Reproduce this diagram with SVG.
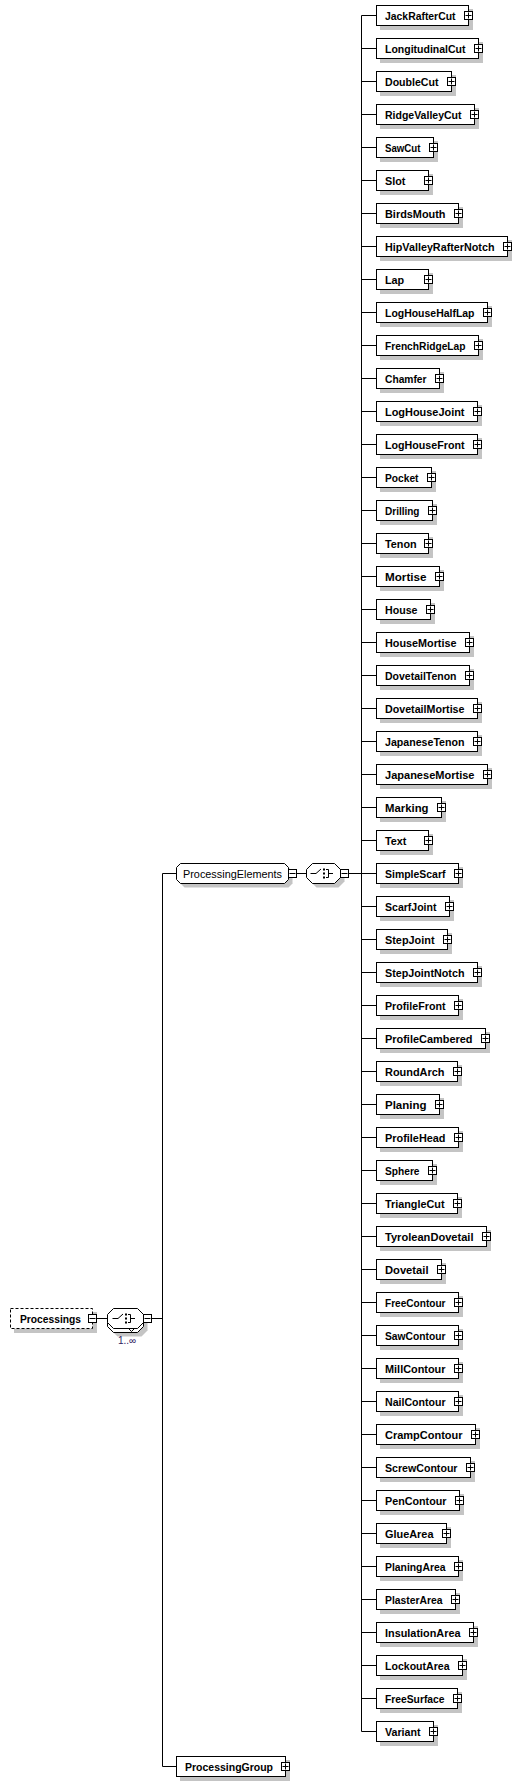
<svg xmlns="http://www.w3.org/2000/svg" xmlns:xlink="http://www.w3.org/1999/xlink" width="522" height="1784" viewBox="0 0 522 1784">
<style>
.sh{fill:#c4c4c4;stroke:none}
.box{fill:#fff;stroke:#000;stroke-width:1}
.dash{fill:#fff;stroke:#000;stroke-width:1;stroke-dasharray:3,2}
.el{font-family:"Liberation Sans",Arial,sans-serif;font-weight:bold;font-size:10.8px;fill:#000}
.grp{font-family:"Liberation Sans",Arial,sans-serif;font-size:10.8px;fill:#000}
.occ{font-family:"Liberation Sans",Arial,sans-serif;font-size:10px;fill:#302060}
.ln{fill:none;stroke:#000;stroke-width:1}
</style>
<defs>
<g id="plus"><rect x="-4" y="-4" width="8" height="8" fill="#fff" stroke="#000"/><path d="M-3 0H3M0 -3V3" stroke="#000" fill="none"/></g>
<g id="minus"><rect x="-4" y="-4" width="8" height="8" fill="#fff" stroke="#000"/><path d="M-3 0H3" stroke="#000" fill="none"/></g>
<g id="seq"><path d="M-13 0H-7.5L-2.5 -4.5" stroke="#000" fill="none"/><rect x="-0.5" y="-5" width="2" height="2" fill="#000"/><rect x="-0.5" y="-1" width="2" height="2" fill="#000"/><rect x="-0.5" y="3" width="2" height="2" fill="#000"/><path d="M2.5 -4H5V4H2.5M5 0H9.5" stroke="#000" fill="none"/></g>
</defs>

<g id="connectors" class="ln">
<path d="M96.5 1318.5H107.5M151.5 1318.5H162.5M162.5 873.5V1766.5M162.5 873.5H176.5M162.5 1766.5H176.5M296.5 873.5H306.5M348.5 873.5H361.5M361.5 15.5V1731.5"/>
<path d="M361.5 15.5H376.5M361.5 48.5H376.5M361.5 81.5H376.5M361.5 114.5H376.5M361.5 147.5H376.5M361.5 180.5H376.5M361.5 213.5H376.5M361.5 246.5H376.5M361.5 279.5H376.5M361.5 312.5H376.5M361.5 345.5H376.5M361.5 378.5H376.5M361.5 411.5H376.5M361.5 444.5H376.5M361.5 477.5H376.5M361.5 510.5H376.5M361.5 543.5H376.5M361.5 576.5H376.5M361.5 609.5H376.5M361.5 642.5H376.5M361.5 675.5H376.5M361.5 708.5H376.5M361.5 741.5H376.5M361.5 774.5H376.5M361.5 807.5H376.5M361.5 840.5H376.5M361.5 873.5H376.5M361.5 906.5H376.5M361.5 939.5H376.5M361.5 972.5H376.5M361.5 1005.5H376.5M361.5 1038.5H376.5M361.5 1071.5H376.5M361.5 1104.5H376.5M361.5 1137.5H376.5M361.5 1170.5H376.5M361.5 1203.5H376.5M361.5 1236.5H376.5M361.5 1269.5H376.5M361.5 1302.5H376.5M361.5 1335.5H376.5M361.5 1368.5H376.5M361.5 1401.5H376.5M361.5 1434.5H376.5M361.5 1467.5H376.5M361.5 1500.5H376.5M361.5 1533.5H376.5M361.5 1566.5H376.5M361.5 1599.5H376.5M361.5 1632.5H376.5M361.5 1665.5H376.5M361.5 1698.5H376.5M361.5 1731.5H376.5"/>
</g>

<g id="Processings">
<rect class="sh" x="14" y="1312" width="83" height="21"/>
<rect class="dash" x="10.5" y="1308.5" width="82" height="20"/>
<text class="el" x="20" y="1322.5" textLength="61" lengthAdjust="spacingAndGlyphs">Processings</text>
<use xlink:href="#minus" x="92.5" y="1318.5"/>
</g>

<g id="sequence-Processings">
<polygon class="sh" points="117.5,1316.5 141.5,1316.5 147.5,1322.5 147.5,1330.5 141.5,1336.5 117.5,1336.5 111.5,1330.5 111.5,1322.5"/>
<polygon class="box" points="113.5,1312.5 137.5,1312.5 143.5,1318.5 143.5,1326.5 137.5,1332.5 113.5,1332.5 107.5,1326.5 107.5,1318.5"/>
<polygon class="box" points="113.5,1308.5 137.5,1308.5 143.5,1314.5 143.5,1322.5 137.5,1328.5 113.5,1328.5 107.5,1322.5 107.5,1314.5"/>
<path class="ln" d="M128.5 1328.5L131.5 1331.5L134.5 1328.5"/>
<use xlink:href="#seq" x="125.5" y="1318.5"/>
<use xlink:href="#minus" x="147.5" y="1318.5"/>
<text class="occ" x="127" y="1344" text-anchor="middle">1..∞</text>
</g>

<g id="ProcessingElements">
<polygon class="sh" points="184.5,867.5 288.5,867.5 292.5,871.5 292.5,883.5 288.5,887.5 184.5,887.5 180.5,883.5 180.5,871.5"/>
<polygon class="box" points="180.5,863.5 284.5,863.5 288.5,867.5 288.5,879.5 284.5,883.5 180.5,883.5 176.5,879.5 176.5,867.5"/>
<text class="grp" x="183" y="877.5" textLength="99" lengthAdjust="spacingAndGlyphs">ProcessingElements</text>
<use xlink:href="#minus" x="292.5" y="873.5"/>
</g>

<g id="sequence-ProcessingElements">
<polygon class="sh" points="316.5,867.5 338.5,867.5 344.5,873.5 344.5,881.5 338.5,887.5 316.5,887.5 310.5,881.5 310.5,873.5"/>
<polygon class="box" points="312.5,863.5 334.5,863.5 340.5,869.5 340.5,877.5 334.5,883.5 312.5,883.5 306.5,877.5 306.5,869.5"/>
<use xlink:href="#seq" x="323.5" y="873.5"/>
<use xlink:href="#minus" x="344.5" y="873.5"/>
</g>

<g id="ProcessingGroup">
<rect class="sh" x="180" y="1760" width="110" height="21"/>
<rect class="box" x="176.5" y="1756.5" width="109" height="20"/>
<text class="el" x="185" y="1770.5" textLength="88" lengthAdjust="spacingAndGlyphs">ProcessingGroup</text>
<use xlink:href="#plus" x="285.5" y="1766.5"/>
</g>

<g id="JackRafterCut" transform="translate(0,0)"><rect class="sh" x="380" y="9" width="93" height="21"/><rect class="box" x="376.5" y="5.5" width="92" height="20"/><text class="el" x="385" y="19.5" textLength="70.5" lengthAdjust="spacingAndGlyphs">JackRafterCut</text><use xlink:href="#plus" x="468.5" y="15.5"/></g>
<g id="LongitudinalCut" transform="translate(0,33)"><rect class="sh" x="380" y="9" width="103" height="21"/><rect class="box" x="376.5" y="5.5" width="102" height="20"/><text class="el" x="385" y="19.5" textLength="80.5" lengthAdjust="spacingAndGlyphs">LongitudinalCut</text><use xlink:href="#plus" x="478.5" y="15.5"/></g>
<g id="DoubleCut" transform="translate(0,66)"><rect class="sh" x="380" y="9" width="76" height="21"/><rect class="box" x="376.5" y="5.5" width="75" height="20"/><text class="el" x="385" y="19.5" textLength="53.5" lengthAdjust="spacingAndGlyphs">DoubleCut</text><use xlink:href="#plus" x="451.5" y="15.5"/></g>
<g id="RidgeValleyCut" transform="translate(0,99)"><rect class="sh" x="380" y="9" width="99" height="21"/><rect class="box" x="376.5" y="5.5" width="98" height="20"/><text class="el" x="385" y="19.5" textLength="76.5" lengthAdjust="spacingAndGlyphs">RidgeValleyCut</text><use xlink:href="#plus" x="474.5" y="15.5"/></g>
<g id="SawCut" transform="translate(0,132)"><rect class="sh" x="380" y="9" width="58" height="21"/><rect class="box" x="376.5" y="5.5" width="57" height="20"/><text class="el" x="385" y="19.5" textLength="35.5" lengthAdjust="spacingAndGlyphs">SawCut</text><use xlink:href="#plus" x="433.5" y="15.5"/></g>
<g id="Slot" transform="translate(0,165)"><rect class="sh" x="380" y="9" width="53" height="21"/><rect class="box" x="376.5" y="5.5" width="52" height="20"/><text class="el" x="385" y="19.5">Slot</text><use xlink:href="#plus" x="428.5" y="15.5"/></g>
<g id="BirdsMouth" transform="translate(0,198)"><rect class="sh" x="380" y="9" width="83" height="21"/><rect class="box" x="376.5" y="5.5" width="82" height="20"/><text class="el" x="385" y="19.5" textLength="60.5" lengthAdjust="spacingAndGlyphs">BirdsMouth</text><use xlink:href="#plus" x="458.5" y="15.5"/></g>
<g id="HipValleyRafterNotch" transform="translate(0,231)"><rect class="sh" x="380" y="9" width="132" height="21"/><rect class="box" x="376.5" y="5.5" width="131" height="20"/><text class="el" x="385" y="19.5" textLength="109.5" lengthAdjust="spacingAndGlyphs">HipValleyRafterNotch</text><use xlink:href="#plus" x="507.5" y="15.5"/></g>
<g id="Lap" transform="translate(0,264)"><rect class="sh" x="380" y="9" width="53" height="21"/><rect class="box" x="376.5" y="5.5" width="52" height="20"/><text class="el" x="385" y="19.5">Lap</text><use xlink:href="#plus" x="428.5" y="15.5"/></g>
<g id="LogHouseHalfLap" transform="translate(0,297)"><rect class="sh" x="380" y="9" width="112" height="21"/><rect class="box" x="376.5" y="5.5" width="111" height="20"/><text class="el" x="385" y="19.5" textLength="89.5" lengthAdjust="spacingAndGlyphs">LogHouseHalfLap</text><use xlink:href="#plus" x="487.5" y="15.5"/></g>
<g id="FrenchRidgeLap" transform="translate(0,330)"><rect class="sh" x="380" y="9" width="103" height="21"/><rect class="box" x="376.5" y="5.5" width="102" height="20"/><text class="el" x="385" y="19.5" textLength="80.5" lengthAdjust="spacingAndGlyphs">FrenchRidgeLap</text><use xlink:href="#plus" x="478.5" y="15.5"/></g>
<g id="Chamfer" transform="translate(0,363)"><rect class="sh" x="380" y="9" width="64" height="21"/><rect class="box" x="376.5" y="5.5" width="63" height="20"/><text class="el" x="385" y="19.5" textLength="41.5" lengthAdjust="spacingAndGlyphs">Chamfer</text><use xlink:href="#plus" x="439.5" y="15.5"/></g>
<g id="LogHouseJoint" transform="translate(0,396)"><rect class="sh" x="380" y="9" width="102" height="21"/><rect class="box" x="376.5" y="5.5" width="101" height="20"/><text class="el" x="385" y="19.5" textLength="79.5" lengthAdjust="spacingAndGlyphs">LogHouseJoint</text><use xlink:href="#plus" x="477.5" y="15.5"/></g>
<g id="LogHouseFront" transform="translate(0,429)"><rect class="sh" x="380" y="9" width="102" height="21"/><rect class="box" x="376.5" y="5.5" width="101" height="20"/><text class="el" x="385" y="19.5" textLength="79.5" lengthAdjust="spacingAndGlyphs">LogHouseFront</text><use xlink:href="#plus" x="477.5" y="15.5"/></g>
<g id="Pocket" transform="translate(0,462)"><rect class="sh" x="380" y="9" width="56" height="21"/><rect class="box" x="376.5" y="5.5" width="55" height="20"/><text class="el" x="385" y="19.5" textLength="33.5" lengthAdjust="spacingAndGlyphs">Pocket</text><use xlink:href="#plus" x="431.5" y="15.5"/></g>
<g id="Drilling" transform="translate(0,495)"><rect class="sh" x="380" y="9" width="57" height="21"/><rect class="box" x="376.5" y="5.5" width="56" height="20"/><text class="el" x="385" y="19.5" textLength="34.5" lengthAdjust="spacingAndGlyphs">Drilling</text><use xlink:href="#plus" x="432.5" y="15.5"/></g>
<g id="Tenon" transform="translate(0,528)"><rect class="sh" x="380" y="9" width="53" height="21"/><rect class="box" x="376.5" y="5.5" width="52" height="20"/><text class="el" x="385" y="19.5">Tenon</text><use xlink:href="#plus" x="428.5" y="15.5"/></g>
<g id="Mortise" transform="translate(0,561)"><rect class="sh" x="380" y="9" width="64" height="21"/><rect class="box" x="376.5" y="5.5" width="63" height="20"/><text class="el" x="385" y="19.5" textLength="41.5" lengthAdjust="spacingAndGlyphs">Mortise</text><use xlink:href="#plus" x="439.5" y="15.5"/></g>
<g id="House" transform="translate(0,594)"><rect class="sh" x="380" y="9" width="55" height="21"/><rect class="box" x="376.5" y="5.5" width="54" height="20"/><text class="el" x="385" y="19.5" textLength="32.5" lengthAdjust="spacingAndGlyphs">House</text><use xlink:href="#plus" x="430.5" y="15.5"/></g>
<g id="HouseMortise" transform="translate(0,627)"><rect class="sh" x="380" y="9" width="94" height="21"/><rect class="box" x="376.5" y="5.5" width="93" height="20"/><text class="el" x="385" y="19.5" textLength="71.5" lengthAdjust="spacingAndGlyphs">HouseMortise</text><use xlink:href="#plus" x="469.5" y="15.5"/></g>
<g id="DovetailTenon" transform="translate(0,660)"><rect class="sh" x="380" y="9" width="94" height="21"/><rect class="box" x="376.5" y="5.5" width="93" height="20"/><text class="el" x="385" y="19.5" textLength="71.5" lengthAdjust="spacingAndGlyphs">DovetailTenon</text><use xlink:href="#plus" x="469.5" y="15.5"/></g>
<g id="DovetailMortise" transform="translate(0,693)"><rect class="sh" x="380" y="9" width="102" height="21"/><rect class="box" x="376.5" y="5.5" width="101" height="20"/><text class="el" x="385" y="19.5" textLength="79.5" lengthAdjust="spacingAndGlyphs">DovetailMortise</text><use xlink:href="#plus" x="477.5" y="15.5"/></g>
<g id="JapaneseTenon" transform="translate(0,726)"><rect class="sh" x="380" y="9" width="102" height="21"/><rect class="box" x="376.5" y="5.5" width="101" height="20"/><text class="el" x="385" y="19.5" textLength="79.5" lengthAdjust="spacingAndGlyphs">JapaneseTenon</text><use xlink:href="#plus" x="477.5" y="15.5"/></g>
<g id="JapaneseMortise" transform="translate(0,759)"><rect class="sh" x="380" y="9" width="112" height="21"/><rect class="box" x="376.5" y="5.5" width="111" height="20"/><text class="el" x="385" y="19.5" textLength="89.5" lengthAdjust="spacingAndGlyphs">JapaneseMortise</text><use xlink:href="#plus" x="487.5" y="15.5"/></g>
<g id="Marking" transform="translate(0,792)"><rect class="sh" x="380" y="9" width="66" height="21"/><rect class="box" x="376.5" y="5.5" width="65" height="20"/><text class="el" x="385" y="19.5" textLength="43.5" lengthAdjust="spacingAndGlyphs">Marking</text><use xlink:href="#plus" x="441.5" y="15.5"/></g>
<g id="Text" transform="translate(0,825)"><rect class="sh" x="380" y="9" width="53" height="21"/><rect class="box" x="376.5" y="5.5" width="52" height="20"/><text class="el" x="385" y="19.5">Text</text><use xlink:href="#plus" x="428.5" y="15.5"/></g>
<g id="SimpleScarf" transform="translate(0,858)"><rect class="sh" x="380" y="9" width="83" height="21"/><rect class="box" x="376.5" y="5.5" width="82" height="20"/><text class="el" x="385" y="19.5" textLength="60.5" lengthAdjust="spacingAndGlyphs">SimpleScarf</text><use xlink:href="#plus" x="458.5" y="15.5"/></g>
<g id="ScarfJoint" transform="translate(0,891)"><rect class="sh" x="380" y="9" width="74" height="21"/><rect class="box" x="376.5" y="5.5" width="73" height="20"/><text class="el" x="385" y="19.5" textLength="51.5" lengthAdjust="spacingAndGlyphs">ScarfJoint</text><use xlink:href="#plus" x="449.5" y="15.5"/></g>
<g id="StepJoint" transform="translate(0,924)"><rect class="sh" x="380" y="9" width="72" height="21"/><rect class="box" x="376.5" y="5.5" width="71" height="20"/><text class="el" x="385" y="19.5" textLength="49.5" lengthAdjust="spacingAndGlyphs">StepJoint</text><use xlink:href="#plus" x="447.5" y="15.5"/></g>
<g id="StepJointNotch" transform="translate(0,957)"><rect class="sh" x="380" y="9" width="102" height="21"/><rect class="box" x="376.5" y="5.5" width="101" height="20"/><text class="el" x="385" y="19.5" textLength="79.5" lengthAdjust="spacingAndGlyphs">StepJointNotch</text><use xlink:href="#plus" x="477.5" y="15.5"/></g>
<g id="ProfileFront" transform="translate(0,990)"><rect class="sh" x="380" y="9" width="83" height="21"/><rect class="box" x="376.5" y="5.5" width="82" height="20"/><text class="el" x="385" y="19.5" textLength="60.5" lengthAdjust="spacingAndGlyphs">ProfileFront</text><use xlink:href="#plus" x="458.5" y="15.5"/></g>
<g id="ProfileCambered" transform="translate(0,1023)"><rect class="sh" x="380" y="9" width="110" height="21"/><rect class="box" x="376.5" y="5.5" width="109" height="20"/><text class="el" x="385" y="19.5" textLength="87.5" lengthAdjust="spacingAndGlyphs">ProfileCambered</text><use xlink:href="#plus" x="485.5" y="15.5"/></g>
<g id="RoundArch" transform="translate(0,1056)"><rect class="sh" x="380" y="9" width="82" height="21"/><rect class="box" x="376.5" y="5.5" width="81" height="20"/><text class="el" x="385" y="19.5" textLength="59.5" lengthAdjust="spacingAndGlyphs">RoundArch</text><use xlink:href="#plus" x="457.5" y="15.5"/></g>
<g id="Planing" transform="translate(0,1089)"><rect class="sh" x="380" y="9" width="64" height="21"/><rect class="box" x="376.5" y="5.5" width="63" height="20"/><text class="el" x="385" y="19.5" textLength="41.5" lengthAdjust="spacingAndGlyphs">Planing</text><use xlink:href="#plus" x="439.5" y="15.5"/></g>
<g id="ProfileHead" transform="translate(0,1122)"><rect class="sh" x="380" y="9" width="83" height="21"/><rect class="box" x="376.5" y="5.5" width="82" height="20"/><text class="el" x="385" y="19.5" textLength="60.5" lengthAdjust="spacingAndGlyphs">ProfileHead</text><use xlink:href="#plus" x="458.5" y="15.5"/></g>
<g id="Sphere" transform="translate(0,1155)"><rect class="sh" x="380" y="9" width="57" height="21"/><rect class="box" x="376.5" y="5.5" width="56" height="20"/><text class="el" x="385" y="19.5" textLength="34.5" lengthAdjust="spacingAndGlyphs">Sphere</text><use xlink:href="#plus" x="432.5" y="15.5"/></g>
<g id="TriangleCut" transform="translate(0,1188)"><rect class="sh" x="380" y="9" width="82" height="21"/><rect class="box" x="376.5" y="5.5" width="81" height="20"/><text class="el" x="385" y="19.5" textLength="59.5" lengthAdjust="spacingAndGlyphs">TriangleCut</text><use xlink:href="#plus" x="457.5" y="15.5"/></g>
<g id="TyroleanDovetail" transform="translate(0,1221)"><rect class="sh" x="380" y="9" width="111" height="21"/><rect class="box" x="376.5" y="5.5" width="110" height="20"/><text class="el" x="385" y="19.5" textLength="88.5" lengthAdjust="spacingAndGlyphs">TyroleanDovetail</text><use xlink:href="#plus" x="486.5" y="15.5"/></g>
<g id="Dovetail" transform="translate(0,1254)"><rect class="sh" x="380" y="9" width="66" height="21"/><rect class="box" x="376.5" y="5.5" width="65" height="20"/><text class="el" x="385" y="19.5" textLength="43.5" lengthAdjust="spacingAndGlyphs">Dovetail</text><use xlink:href="#plus" x="441.5" y="15.5"/></g>
<g id="FreeContour" transform="translate(0,1287)"><rect class="sh" x="380" y="9" width="83" height="21"/><rect class="box" x="376.5" y="5.5" width="82" height="20"/><text class="el" x="385" y="19.5" textLength="60.5" lengthAdjust="spacingAndGlyphs">FreeContour</text><use xlink:href="#plus" x="458.5" y="15.5"/></g>
<g id="SawContour" transform="translate(0,1320)"><rect class="sh" x="380" y="9" width="83" height="21"/><rect class="box" x="376.5" y="5.5" width="82" height="20"/><text class="el" x="385" y="19.5" textLength="60.5" lengthAdjust="spacingAndGlyphs">SawContour</text><use xlink:href="#plus" x="458.5" y="15.5"/></g>
<g id="MillContour" transform="translate(0,1353)"><rect class="sh" x="380" y="9" width="83" height="21"/><rect class="box" x="376.5" y="5.5" width="82" height="20"/><text class="el" x="385" y="19.5" textLength="60.5" lengthAdjust="spacingAndGlyphs">MillContour</text><use xlink:href="#plus" x="458.5" y="15.5"/></g>
<g id="NailContour" transform="translate(0,1386)"><rect class="sh" x="380" y="9" width="83" height="21"/><rect class="box" x="376.5" y="5.5" width="82" height="20"/><text class="el" x="385" y="19.5" textLength="60.5" lengthAdjust="spacingAndGlyphs">NailContour</text><use xlink:href="#plus" x="458.5" y="15.5"/></g>
<g id="CrampContour" transform="translate(0,1419)"><rect class="sh" x="380" y="9" width="100" height="21"/><rect class="box" x="376.5" y="5.5" width="99" height="20"/><text class="el" x="385" y="19.5" textLength="77.5" lengthAdjust="spacingAndGlyphs">CrampContour</text><use xlink:href="#plus" x="475.5" y="15.5"/></g>
<g id="ScrewContour" transform="translate(0,1452)"><rect class="sh" x="380" y="9" width="95" height="21"/><rect class="box" x="376.5" y="5.5" width="94" height="20"/><text class="el" x="385" y="19.5" textLength="72.5" lengthAdjust="spacingAndGlyphs">ScrewContour</text><use xlink:href="#plus" x="470.5" y="15.5"/></g>
<g id="PenContour" transform="translate(0,1485)"><rect class="sh" x="380" y="9" width="84" height="21"/><rect class="box" x="376.5" y="5.5" width="83" height="20"/><text class="el" x="385" y="19.5" textLength="61.5" lengthAdjust="spacingAndGlyphs">PenContour</text><use xlink:href="#plus" x="459.5" y="15.5"/></g>
<g id="GlueArea" transform="translate(0,1518)"><rect class="sh" x="380" y="9" width="71" height="21"/><rect class="box" x="376.5" y="5.5" width="70" height="20"/><text class="el" x="385" y="19.5" textLength="48.5" lengthAdjust="spacingAndGlyphs">GlueArea</text><use xlink:href="#plus" x="446.5" y="15.5"/></g>
<g id="PlaningArea" transform="translate(0,1551)"><rect class="sh" x="380" y="9" width="83" height="21"/><rect class="box" x="376.5" y="5.5" width="82" height="20"/><text class="el" x="385" y="19.5" textLength="60.5" lengthAdjust="spacingAndGlyphs">PlaningArea</text><use xlink:href="#plus" x="458.5" y="15.5"/></g>
<g id="PlasterArea" transform="translate(0,1584)"><rect class="sh" x="380" y="9" width="80" height="21"/><rect class="box" x="376.5" y="5.5" width="79" height="20"/><text class="el" x="385" y="19.5" textLength="57.5" lengthAdjust="spacingAndGlyphs">PlasterArea</text><use xlink:href="#plus" x="455.5" y="15.5"/></g>
<g id="InsulationArea" transform="translate(0,1617)"><rect class="sh" x="380" y="9" width="98" height="21"/><rect class="box" x="376.5" y="5.5" width="97" height="20"/><text class="el" x="385" y="19.5" textLength="75.5" lengthAdjust="spacingAndGlyphs">InsulationArea</text><use xlink:href="#plus" x="473.5" y="15.5"/></g>
<g id="LockoutArea" transform="translate(0,1650)"><rect class="sh" x="380" y="9" width="87" height="21"/><rect class="box" x="376.5" y="5.5" width="86" height="20"/><text class="el" x="385" y="19.5" textLength="64.5" lengthAdjust="spacingAndGlyphs">LockoutArea</text><use xlink:href="#plus" x="462.5" y="15.5"/></g>
<g id="FreeSurface" transform="translate(0,1683)"><rect class="sh" x="380" y="9" width="82" height="21"/><rect class="box" x="376.5" y="5.5" width="81" height="20"/><text class="el" x="385" y="19.5" textLength="59.5" lengthAdjust="spacingAndGlyphs">FreeSurface</text><use xlink:href="#plus" x="457.5" y="15.5"/></g>
<g id="Variant" transform="translate(0,1716)"><rect class="sh" x="380" y="9" width="58" height="21"/><rect class="box" x="376.5" y="5.5" width="57" height="20"/><text class="el" x="385" y="19.5" textLength="35.5" lengthAdjust="spacingAndGlyphs">Variant</text><use xlink:href="#plus" x="433.5" y="15.5"/></g>
</svg>
